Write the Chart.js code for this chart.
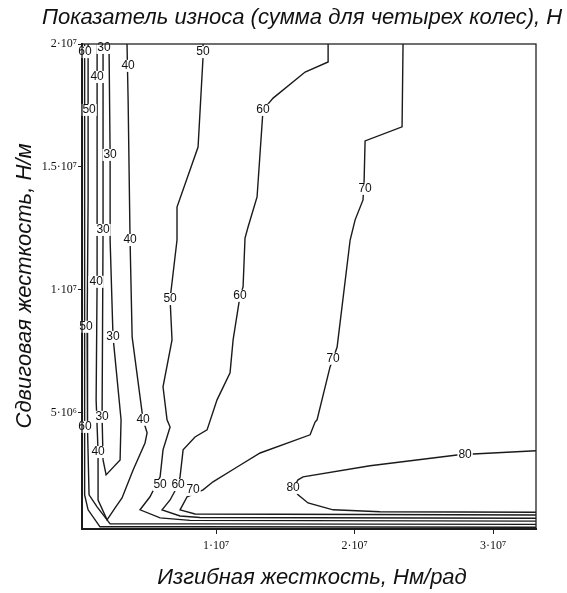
<!DOCTYPE html>
<html>
<head>
<meta charset="utf-8">
<script src="https://cdn.jsdelivr.net/npm/chart.js@4.4.0/dist/chart.umd.min.js"></script>
<style>
  html, body { margin: 0; padding: 0; background: #fff; }
  canvas { display: block; }
</style>
</head>
<body>
<canvas id="chart" width="567" height="593"></canvas>
<script>
'use strict';

// both axes are in units of 10^6
const xTickValues = [10, 20, 30];
const xTickLabels = ['1·10⁷', '2·10⁷', '3·10⁷'];
const yTickValues = [5, 10, 15, 20];
const yTickLabels = ['5·10⁶', '1·10⁷', '1.5·10⁷', '2·10⁷'];

// contour lines as [x, y] pairs
const c30 = [[1.84, 20], [1.84, 12.44], [1.77, 4.84], [1.84, 3.09], [2.06, 2.48],
    [3.07, 3.09], [3.14, 4.72], [2.56, 8.09], [2.35, 12.03], [2.35, 15.49], [2.27, 20]];
const c40 = [[1.41, 20], [1.41, 10.33], [1.34, 5.53], [1.48, 3.41], [1.48, 1.46], [2.13, 0.65],
    [2.71, 1.14], [3.21, 1.54], [4.01, 2.68], [4.87, 3.78], [5.02, 4.19], [4.73, 4.72],
    [3.94, 8.09], [3.79, 12.03], [3.65, 17.72], [3.57, 20]];
const c50left = [[0.76, 20], [0.76, 13.66], [0.69, 8.37], [0.72, 4.31], [0.83, 1.67],
    [1.41, 1.18], [2.35, 0.49], [8.12, 0.49], [33.1, 0.47]];
const c50right = [[9.06, 20], [9.06, 19.47], [8.70, 15.81], [7.18, 13.37], [7.18, 12.03],
    [6.68, 9.63], [6.82, 7.97], [6.17, 6.06], [6.46, 4.72], [6.68, 4.43], [6.17, 3.50],
    [5.96, 2.40], [5.23, 1.59], [4.51, 1.06], [5.96, 0.73], [8.12, 0.63], [33.1, 0.60]];
const c60left = [[0.51, 20], [0.51, 1.67], [0.76, 1.06], [1.62, 0.37], [8.12, 0.37], [33.1, 0.35]];
const c60right = [[18.09, 20], [18.09, 19.27], [16.43, 18.86], [14.12, 17.80], [13.39, 17.32],
    [12.96, 13.78], [12.31, 12.56], [12.09, 12.11], [11.95, 10.12], [11.73, 9.76],
    [11.23, 7.97], [11.01, 6.63], [10.07, 5.53], [9.35, 4.31], [8.48, 4.02], [7.62, 3.50],
    [7.40, 2.40], [7.26, 2.07], [6.68, 1.46], [6.10, 1.06], [7.40, 0.81], [8.84, 0.75],
    [33.1, 0.72]];
const c70 = [[23.50, 20], [23.43, 16.63], [20.76, 16.06], [20.69, 14.47], [20.61, 13.66],
    [20.04, 12.85], [19.68, 12.03], [18.74, 7.68], [18.45, 7.20], [18.23, 6.87],
    [17.29, 4.72], [17.15, 4.63], [16.79, 4.11], [13.18, 3.37], [11.52, 2.80], [9.78, 2.20],
    [9.06, 1.87], [7.91, 1.59], [7.40, 1.06], [8.48, 0.89], [33.1, 0.85]];
const c80 = [[33.1, 3.46], [28.56, 3.33], [27.40, 3.29], [21.12, 2.85], [16.28, 2.40],
    [15.92, 2.28], [15.56, 1.95], [15.92, 1.67], [16.64, 1.34], [18.45, 1.06],
    [21.84, 0.98], [33.1, 0.96]];

// inline contour labels
const labelText = ['60', '30', '40', '50', '40', '50', '30', '60', '70', '30', '40', '40', '60',
    '50', '50', '30', '70', '30', '40', '60', '40', '80', '50', '60', '70', '80'];
const labelX = [0.54, 1.91, 3.65, 9.06, 1.41, 0.83, 2.35, 13.39, 20.76, 1.84, 3.79, 1.34, 11.73,
    6.68, 0.61, 2.56, 18.45, 1.77, 4.73, 0.54, 1.48, 27.98, 5.96, 7.26, 8.34, 15.56];
const labelY = [19.67, 19.84, 19.11, 19.67, 18.66, 17.32, 15.49, 17.32, 14.11, 12.44, 12.03,
    10.33, 9.76, 9.63, 8.50, 8.09, 7.20, 4.84, 4.72, 4.43, 3.41, 3.29, 2.07, 2.07, 1.87, 1.95];

const titleText = 'Показатель износа (сумма для четырех колес), Н';
const xTitle = 'Изгибная жесткость, Нм/рад';
const yTitle = 'Сдвиговая жесткость, Н/м';

const contours = [c30, c40, c50left, c50right, c60left, c60right, c70, c80];

const labelsAndFrame = {
    id: 'labelsAndFrame',
    afterDatasetsDraw(chart) {
        const {ctx, chartArea: a, scales: {x, y}} = chart;
        ctx.save();
        ctx.font = '12px "Liberation Sans", Arial, sans-serif';
        ctx.textAlign = 'center';
        ctx.textBaseline = 'middle';
        labelText.forEach((t, i) => {
            const px = x.getPixelForValue(labelX[i]);
            const py = y.getPixelForValue(labelY[i]);
            const w = ctx.measureText(t).width;
            ctx.fillStyle = '#fff';
            ctx.fillRect(px - w / 2 - 1, py - 6, w + 2, 12);
            ctx.fillStyle = '#111';
            ctx.fillText(t, px, py);
        });
        ctx.strokeStyle = '#222';
        ctx.lineWidth = 1.3;
        ctx.strokeRect(a.left, a.top, a.right - a.left, a.bottom - a.top);
        ctx.restore();
    },
    afterDraw(chart) {
        const ctx = chart.ctx;
        ctx.save();
        ctx.fillStyle = '#111';
        ctx.font = 'italic 22px "Liberation Sans", Arial, sans-serif';
        ctx.textBaseline = 'alphabetic';
        ctx.textAlign = 'left';
        ctx.fillText(titleText, 42, 24);
        ctx.textAlign = 'center';
        ctx.fillText(xTitle, 312, 584);
        ctx.translate(31, 286);
        ctx.rotate(-Math.PI / 2);
        ctx.fillText(yTitle, 0, 0);
        ctx.restore();
    }
};

const tickFont = {family: '"Liberation Serif", "Times New Roman", serif', size: 12};

new Chart(document.getElementById('chart').getContext('2d'), {
    type: 'scatter',
    data: {
        datasets: contours.map(pts => ({
            data: pts.map(p => ({x: p[0], y: p[1]})),
            showLine: true,
            borderColor: '#1a1a1a',
            borderWidth: 1.4,
            pointRadius: 0,
            tension: 0,
            fill: false
        }))
    },
    options: {
        responsive: false,
        animation: false,
        layout: {padding: {top: 44, right: 31, left: 0, bottom: 0}},
        plugins: {legend: {display: false}, tooltip: {enabled: false}},
        scales: {
            x: {
                type: 'linear',
                min: 0.32,
                max: 33.1,
                afterBuildTicks: s => { s.ticks = xTickValues.map(v => ({value: v})); },
                afterFit: s => { s.height = 64; },
                ticks: {
                    callback: v => xTickLabels[xTickValues.indexOf(v)],
                    font: tickFont, color: '#111', maxRotation: 0, padding: 5
                },
                grid: {drawOnChartArea: false, drawTicks: true, tickLength: 5, color: '#222'},
                border: {display: true, color: '#111', width: 2}
            },
            y: {
                type: 'linear',
                min: 0.28,
                max: 20,
                afterBuildTicks: s => { s.ticks = yTickValues.map(v => ({value: v})); },
                afterFit: s => { s.width = 82; },
                ticks: {
                    callback: v => yTickLabels[yTickValues.indexOf(v)],
                    font: tickFont, color: '#111', padding: 1
                },
                grid: {drawOnChartArea: false, drawTicks: true, tickLength: 4, color: '#222'},
                border: {display: true, color: '#111', width: 2}
            }
        }
    },
    plugins: [labelsAndFrame]
});
</script>
</body>
</html>
